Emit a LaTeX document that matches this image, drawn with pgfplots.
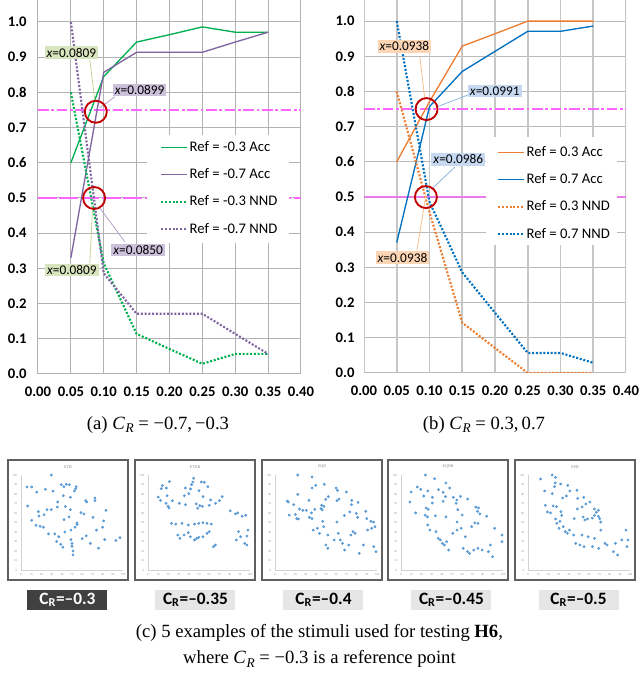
\documentclass[border=0pt]{standalone}
\usepackage{fontspec}
\setmainfont{Liberation Serif}
\newfontfamily\carlito{Carlito}
\usepackage{pgfplots}
\pgfplotsset{compat=1.18}
\definecolor{accg}{RGB}{0,176,80}
\definecolor{accp}{RGB}{128,100,162}
\definecolor{acco}{RGB}{237,125,49}
\definecolor{accb}{RGB}{0,112,192}
\definecolor{refm}{RGB}{255,102,255}
\definecolor{refm2}{RGB}{232,125,232}
\definecolor{circ}{RGB}{192,0,0}
\definecolor{boxg}{RGB}{215,228,189}
\definecolor{boxp}{RGB}{204,193,218}
\definecolor{boxo}{RGB}{252,213,180}
\definecolor{boxb}{RGB}{198,217,241}
\definecolor{leadg}{RGB}{196,215,155}
\definecolor{leadp}{RGB}{179,162,199}
\definecolor{leado}{RGB}{250,192,144}
\definecolor{leadb}{RGB}{141,180,226}
\definecolor{ptblue}{RGB}{91,155,213}
\definecolor{labdark}{RGB}{64,64,64}
\definecolor{lablight}{RGB}{231,230,230}
\newcommand\CR{\textit{C}\kern0.03em\raisebox{-0.4ex}{\fontsize{10}{10}\selectfont\textit{R}}}
\newcommand\tickfont{\carlito\bfseries\fontsize{11}{13}\selectfont}
\tikzset{
  accline/.style={line width=1pt},
  nndline/.style={line width=1.6pt, dash pattern=on 1.5pt off 1.3pt},
  ann/.style={font=\carlito\fontsize{10}{12}\selectfont, inner xsep=1.5pt, inner ysep=1.2pt},
  pts/.style={only marks, mark=*, mark size=0.85pt, draw=ptblue, fill=ptblue},
  lab/.style={minimum width=60pt, minimum height=15pt, inner sep=0pt, font=\carlito\bfseries\fontsize{13}{15}\selectfont},
}
\pgfplotsset{
  mainchart/.style={
    scale only axis, enlargelimits=false, anchor=south west,
    xmin=0, xmax=0.4, ymin=0,
    xtick={0,0.05,0.1,0.15,0.2,0.25,0.3,0.35,0.4},
    ytick={0,0.1,0.2,0.3,0.4,0.5,0.6,0.7,0.8,0.9,1.0},
    xticklabels={\tickfont 0.00,\tickfont 0.05,\tickfont 0.10,\tickfont 0.15,\tickfont 0.20,\tickfont 0.25,\tickfont 0.30,\tickfont 0.35,\tickfont 0.40},
    yticklabels={\tickfont 0.0,\tickfont 0.1,\tickfont 0.2,\tickfont 0.3,\tickfont 0.4,\tickfont 0.5,\tickfont 0.6,\tickfont 0.7,\tickfont 0.8,\tickfont 0.9,\tickfont 1.0},
    grid=major, axis line style={draw=none}, major tick length=0pt,
    tick label style={font=\tickfont},
    xticklabel style={yshift=-6pt},
    legend cell align=left,
    legend image code/.code={\draw[##1] (0pt,0pt) -- (19pt,0pt);},
    legend style={draw=none, fill=none, anchor=north west, inner sep=0pt,
      font=\carlito\fontsize{11}{13}\selectfont, row sep=10.5pt, column sep=1.5pt,
      nodes={inner sep=0pt, text height=8pt, text depth=2pt}},
  },
  thumb/.style={
    scale only axis, enlargelimits=false, anchor=south west,
    width=76.5pt, height=71.25pt,
    xmin=0, xmax=100, ymin=0, ymax=100,
    axis lines=left, axis line style={draw=gray!35, -}, tick style={draw=none},
    xtick={0,10,20,30,40,50,60,70,80,90,100},
    ytick={0,10,20,30,40,50,60,70,80,90,100},
    xticklabels={0,10,20,30,40,50,60,70,80,90,100},
    yticklabels={0,10,20,30,40,50,60,70,80,90,100},
    tick label style={font=\fontsize{2.3}{2.5}\selectfont, text=gray!80, inner sep=0.6pt},
  },
}
\begin{document}
\begin{tikzpicture}
\useasboundingbox (0,0) rectangle (479.25pt,506.25pt);

% ---------------- (a) ----------------
\begin{axis}[mainchart, at={(28.5pt,225.75pt)}, width=197.25pt, height=280.5pt, ymax=1.0625,
  major grid style={gray!60, line width=0.75pt},
  yticklabel style={xshift=-5pt},
  legend style={at={(rel axis cs:0.4639,0.625)}},
  legend entries={Ref = -0.3 Acc, Ref = -0.7 Acc, Ref = -0.3 NND, Ref = -0.7 NND}]
\addplot[refm, line width=0.9pt, dash pattern=on 8pt off 2pt on 2pt off 2pt, forget plot] coordinates {(0,0.75) (0.4,0.75)};
\addplot[refm, line width=1pt, dash pattern=on 14pt off 2pt, forget plot] coordinates {(0,0.5) (0.4,0.5)};
\fill[white] (axis cs:0.1652,0.679) rectangle (axis cs:0.3818,0.372);
\addplot[accg, accline] coordinates {(0.05,0.600) (0.10,0.845) (0.15,0.943) (0.20,0.964) (0.25,0.986) (0.30,0.971) (0.35,0.971)};
\addplot[accp, accline] coordinates {(0.05,0.330) (0.10,0.857) (0.15,0.914) (0.20,0.914) (0.25,0.914) (0.30,0.943) (0.35,0.971)};
\addplot[accg, nndline] coordinates {(0.05,0.800) (0.10,0.314) (0.15,0.114) (0.20,0.071) (0.25,0.029) (0.30,0.057) (0.35,0.057)};
\addplot[accp, nndline] coordinates {(0.05,1.000) (0.10,0.286) (0.15,0.171) (0.20,0.171) (0.25,0.171) (0.30,0.114) (0.35,0.057)};
\draw[leadg, line width=0.6pt] (axis cs:0.0788,0.892) -- (axis cs:0.0864,0.778);
\draw[leadp, line width=0.6pt] (axis cs:0.1167,0.787) -- (axis cs:0.094,0.756);
\draw[leadp, line width=0.6pt] (axis cs:0.1318,0.376) -- (axis cs:0.094,0.472);
\draw[leadg, line width=0.6pt] (axis cs:0.0788,0.315) -- (axis cs:0.0833,0.48);
\node[ann, fill=boxg] at (axis cs:0.0508,0.913) {\textit{x}=0.0809};
\node[ann, fill=boxp] at (axis cs:0.1545,0.807) {\textit{x}=0.0899};
\node[ann, fill=boxp] at (axis cs:0.1523,0.352) {\textit{x}=0.0850};
\node[ann, fill=boxg] at (axis cs:0.0515,0.295) {\textit{x}=0.0809};
\addplot[only marks, mark=o, mark size=8.25pt, draw=circ, mark options={line width=1.4pt}, forget plot] coordinates {(0.0879,0.745) (0.0853,0.5)};
\end{axis}

% ---------------- (b) ----------------
\begin{axis}[mainchart, at={(273pt,226.5pt)}, width=196.5pt, height=279.75pt, ymax=1.06,
  major grid style={gray!55, line width=0.75pt},
  xmajorgrids=false,
  yticklabel style={xshift=-3.6pt},
  legend style={at={(rel axis cs:0.5076,0.6106)}},
  legend entries={Ref = 0.3 Acc, Ref = 0.7 Acc, Ref = 0.3 NND, Ref = 0.7 NND}]
\pgfplotsinvokeforeach{0,0.05,0.1,0.15,0.2,0.25,0.3,0.35,0.4}{
  \draw[gray!45, line width=1.3pt] (axis cs:#1,0) -- (axis cs:#1,1.06);
}
\addplot[refm, line width=0.9pt, dash pattern=on 8pt off 2pt on 2pt off 2pt, forget plot] coordinates {(0,0.75) (0.4,0.75)};
\addplot[refm2, line width=1.4pt, forget plot] coordinates {(0,0.5) (0.4,0.5)};
\fill[white] (axis cs:0.186,0.6705) rectangle (axis cs:0.3857,0.3636);
\addplot[acco, accline] coordinates {(0.05,0.600) (0.10,0.771) (0.15,0.929) (0.20,0.964) (0.25,1.000) (0.30,1.000) (0.35,1.000)};
\addplot[accb, accline] coordinates {(0.05,0.371) (0.10,0.757) (0.15,0.857) (0.20,0.914) (0.25,0.971) (0.30,0.971) (0.35,0.986)};
\addplot[acco, nndline] coordinates {(0.05,0.800) (0.10,0.457) (0.15,0.143) (0.20,0.071) (0.25,0.000) (0.30,0.000) (0.35,0.000)};
\addplot[accb, nndline] coordinates {(0.05,1.000) (0.10,0.486) (0.15,0.286) (0.20,0.171) (0.25,0.057) (0.30,0.057) (0.35,0.029)};
\draw[leado, line width=0.6pt] (axis cs:0.0854,0.898) -- (axis cs:0.093,0.776);
\draw[leadb, line width=0.6pt] (axis cs:0.1585,0.79) -- (axis cs:0.111,0.756);
\draw[leadb, line width=0.6pt] (axis cs:0.1387,0.585) -- (axis cs:0.1052,0.526);
\draw[leado, line width=0.6pt] (axis cs:0.0808,0.349) -- (axis cs:0.0945,0.506);
\node[ann, fill=boxo] at (axis cs:0.0617,0.928) {\textit{x}=0.0938};
\node[ann, fill=boxb] at (axis cs:0.1997,0.801) {\textit{x}=0.0991};
\node[ann, fill=boxb] at (axis cs:0.144,0.607) {\textit{x}=0.0986};
\node[ann, fill=boxo] at (axis cs:0.0587,0.328) {\textit{x}=0.0938};
\addplot[only marks, mark=o, mark size=8.25pt, draw=circ, mark options={line width=1.4pt}, forget plot] coordinates {(0.0955,0.75) (0.0945,0.5)};
\end{axis}

\node[font=\fontsize{14}{16}\selectfont] at (118.5pt,187.5pt) {(a) \CR\ = −0.7,\,−0.3};
\node[font=\fontsize{14}{16}\selectfont] at (363pt,187.5pt) {(b) \CR\ = 0.3,\,0.7};

% ---------------- thumbnails ----------------
\foreach \bx/\tt in {6/ETB, 101.25/ETDB, 196.5/EQB, 291/EQDB, 386.25/EPB}{
  \draw[gray!75!black, line width=1.5pt] (\bx pt,71.25pt) rectangle ++(90pt,90pt);
  \node[font=\fontsize{3}{3.5}\selectfont, text=gray] at ({\bx pt+45pt},156pt) {\tt};
}
\begin{axis}[thumb, at={(15.75pt,78.75pt)}]
\addplot[pts] coordinates {(5.9,87.4)(10.5,87.4)(15.4,82)(23.8,85)(31.4,83)(29.7,100)(39.5,89.8)(42,87.7)(44.4,90.2)(47.4,89.8)(54,87.7)(53.6,85.6)(52.3,83.2)(41.5,78.2)(48.4,76.5)(36,71.6)(6.5,67.4)(17,61.4)(25.5,63.5)(29.7,63.5)(35.6,66.3)(43.5,66.9)(48.4,63.5)(22.6,58.2)(17.6,56.8)(10.5,52.3)(58.8,60.4)(61.7,59)(63.4,73)(64.4,71.6)(72.5,75.8)(72.5,73)(83.3,62.8)(70.6,55.4)(42.2,53)(47.1,55.8)(54.9,49.5)(81,51.6)
(14.7,47)(18.7,46)(22,45)(27,38)(33,38)(37,35)(43,40)(49,42)(53,45)(55,48)(35,30)(39,27)(41,24)(49,32)(50,28)(50,25)(51,20)(51,16)(60,33)(68,28)(76,23)(82,32)(80,45)(93,31)(97,34)(74,42)(64,36)};
\end{axis}
\begin{axis}[thumb, at={(111pt,78.75pt)}]
\addplot[pts] coordinates {(10,76.8)(12.3,73.3)(14,88.8)(13,85.6)(18,86.3)(21,93)(18.7,78.2)(24,72.9)(17.7,70.2)(19.7,67)(20.7,65.3)(30.7,70.2)(36.7,68.8)(35.7,78.2)(36.7,86.3)(40,80.4)(41.7,85.3)(42.7,89.8)(44.7,96.5)(44,92.6)(50,83.5)(52.3,92.6)(55.3,92.3)(58.7,87.7)(54,77.2)(47.3,69.5)(50.7,67.7)(48.7,65)(53.3,67)(61.3,73.7)(60,68)(66.3,70.2)(70,73)(72.7,77.2)(80.7,62.2)(85.7,59.1)(88,60.1)(92.3,56.6)(95.7,57.7)
(23,49.1)(27.2,48.4)(33.3,49.1)(39.5,47.4)(45.6,48.4)(49.7,49.1)(53.8,49.8)(57.9,49.1)(62,48.4)(29.2,36.8)(31.3,33.3)(35.4,36.8)(39.5,39.3)(41.5,35)(45.6,31.6)(47.7,33.3)(49.7,34.4)(53.8,35)(57.9,38.6)(60,40.4)(64.1,24.6)(66.1,26.3)(88.7,40.4)(90.7,35)(97,35.7)(94.8,28)(97,26.3)(98,42)(86.6,31.6)};
\end{axis}
\begin{axis}[thumb, at={(206.25pt,78.75pt)}]
\addplot[pts] coordinates {(22.3,100)(36.3,97.9)(36.3,86.3)(40,89.1)(48.3,90.2)(60,86.3)(61.3,83.9)(70,82.1)(22.3,79.6)(52.3,77.2)(49.7,74.4)(60.7,73)(62.7,74.7)(33.3,73.3)(12,72.6)(13,71.6)(18.3,68.8)(24,64.2)(27.3,62.8)(30.7,62.8)(39,63.9)(45.7,68.1)(48,67)(45,64.6)(46.3,63.2)(75.3,73.3)(75,68.8)(81.3,71.2)(73.3,61.1)(79.7,59.6)(81,55.4)(89,61.8)(90,54.1)(94,51.2)(96.7,50.5)(14,57.7)(20,58.4)(21.3,54.1)(23,53.7)(33.7,55.4)(36.3,54.1)(35.7,60.1)(68,57.3)(60.7,50.5)(46.7,51.2)
(37.5,42)(41.6,43.9)(43.6,38.6)(47.7,45.6)(51.8,36.8)(49.8,26.3)(51.8,22.8)(58,31.6)(62,38.6)(64,31.6)(66.2,28)(68.2,21)(72.3,26.3)(74.4,36.8)(76.4,40.4)(78.5,38.6)(82.6,17.5)(86.7,26.3)(90.8,42)(94.9,43.9)(96.9,24.6)(99,19.3)(98,45.6)};
\end{axis}
\begin{axis}[thumb, at={(300.75pt,78.75pt)}]
\addplot[pts] coordinates {(24,100)(33,96.1)(44,91.6)(16,87.4)(19.3,84.9)(26.3,83.2)(36.7,84.6)(41.3,81.8)(47.7,86.3)(10,82.1)(22.3,77.9)(30.7,76.5)(43.7,77.2)(51.3,76.5)(54.7,73.7)(58.3,77.5)(65.3,74.7)(8.7,71.6)(30.7,70.5)(41.3,72.3)(54,70.2)(24.7,65.3)(26.7,63.9)(73.3,66.3)(76,65.3)(75,61.8)(77.3,59.1)(84,56.6)(14.3,60.1)(23.7,57.7)(26,55.9)(33.7,57)(44,55.9)(55.7,63.5)(60,57.9)(55,50.5)(72.3,49.5)
(26.2,47.4)(28.3,42)(34.4,40.4)(36.5,33.3)(38.5,31.6)(40.6,28)(42.6,26.3)(44.7,29.8)(46.7,21)(50.8,38.6)(54.9,42)(59,43.9)(63.1,35)(61,22.8)(65.2,19.3)(67.2,17.5)(71.3,21)(75.4,22.8)(79.5,21)(85.7,19.3)(87.7,26.3)(89.8,14)(91.8,43.9)(99,36.8)(99,29.8)(69.3,45.6)(75.4,49.1)};
\end{axis}
\begin{axis}[thumb, at={(396pt,78.75pt)}]
\addplot[pts] coordinates {(12.3,95.8)(23.7,100)(27,97.5)(26.7,91.6)(26,87.7)(32,90.5)(39,89.1)(16.3,83.2)(23.7,80.4)(41,83.2)(48,83.9)(37.7,77.9)(34,75.8)(48.7,75.4)(54.7,76.5)(60.7,71.6)(56.7,69.5)(53,66.3)(48.3,64.2)(17,68.1)(24.7,67.4)(28,66.7)(19,61.1)(22,60.1)(32.3,61.4)(33,57.5)(65,64.2)(69,62.8)(67,60.7)(65.3,57.5)(69,56.5)(70.3,54.1)(45.3,54.1)(54,55.8)(55.7,52.6)(58.3,53.7)(63,54.7)(27,53.7)(31.3,51.2)(71.3,50.5)
(28.3,49.1)(30.4,43.9)(34.5,45.6)(36.5,40.4)(38.6,38.6)(40.6,42)(44.7,36.8)(46.8,28)(50.9,26.3)(52.9,36.8)(59,35)(63.2,24.6)(65.2,33.3)(71.4,42)(75.5,28)(77.5,26.3)(83.7,19.3)(85.7,28)(87.8,15.8)(91.9,31.6)(96,42)(98,31.6)(97,24.6)(69.3,22.8)(55,24.6)};
\end{axis}

\node[lab, fill=labdark, text=white] at (50.6pt,56.25pt) {C\textsubscript{R}=–0.3};
\node[lab, fill=lablight] at (146.6pt,56.25pt) {C\textsubscript{R}=–0.35};
\node[lab, fill=lablight] at (242.6pt,56.25pt) {C\textsubscript{R}=–0.4};
\node[lab, fill=lablight] at (338.6pt,56.25pt) {C\textsubscript{R}=–0.45};
\node[lab, fill=lablight] at (433.9pt,56.25pt) {C\textsubscript{R}=–0.5};

\node[font=\fontsize{14}{16}\selectfont] at (239.6pt,31.5pt) {(c) 5 examples of the stimuli used for testing \textbf{H6},};
\node[font=\fontsize{14}{16}\selectfont] at (239.6pt,12pt) {where \CR\ = −0.3 is a reference point};
\end{tikzpicture}
\end{document}
